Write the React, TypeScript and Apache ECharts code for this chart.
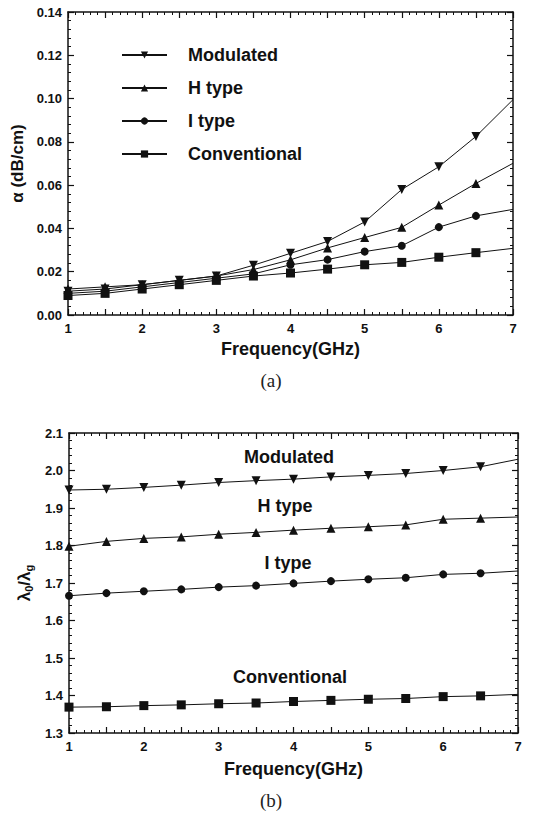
import React, { useEffect, useRef } from "react";
import * as echarts from "echarts";

// Frequency sweep (GHz)
const freqs = [1, 1.5, 2, 2.5, 3, 3.5, 4, 4.5, 5, 5.5, 6, 6.5, 7];

// (a) attenuation constant alpha (dB/cm)
const alphaModulated = [0.011, 0.012, 0.014, 0.016, 0.018, 0.023, 0.0285, 0.034, 0.043, 0.058, 0.0685, 0.0825, 0.0995];
const alphaHType = [0.012, 0.013, 0.014, 0.016, 0.018, 0.021, 0.0255, 0.031, 0.0358, 0.0405, 0.0508, 0.0608, 0.0701];
const alphaIType = [0.010, 0.011, 0.013, 0.015, 0.017, 0.019, 0.0232, 0.0256, 0.0293, 0.032, 0.0406, 0.0458, 0.0488];
const alphaConventional = [0.009, 0.010, 0.012, 0.014, 0.016, 0.018, 0.0194, 0.0212, 0.0232, 0.0243, 0.0267, 0.0288, 0.0308];

// (b) slow-wave factor lambda0 / lambdag
const slowModulated = [1.948, 1.950, 1.955, 1.961, 1.968, 1.973, 1.977, 1.983, 1.987, 1.992, 2.0, 2.01, 2.03];
const slowHType = [1.798, 1.811, 1.819, 1.823, 1.830, 1.835, 1.841, 1.846, 1.850, 1.855, 1.870, 1.873, 1.876];
const slowIType = [1.666, 1.673, 1.678, 1.683, 1.689, 1.693, 1.699, 1.705, 1.710, 1.714, 1.723, 1.726, 1.732];
const slowConventional = [1.369, 1.370, 1.373, 1.375, 1.378, 1.380, 1.384, 1.387, 1.390, 1.392, 1.397, 1.399, 1.403];

const seriesNames = ["Modulated", "H type", "I type", "Conventional"];
const seriesSymbols = ["triangle", "triangle", "circle", "rect"];
const seriesRotate = [180, 0, 0, 0];

const xTicks = { min: 1, max: 7, interval: 0.5 };
const alphaTicks = { min: 0, max: 0.14, interval: 0.02 };
const slowTicks = { min: 1.3, max: 2.1, interval: 0.1 };

const INK = "#111";
const SANS = "'Liberation Sans', Arial, sans-serif";

function pairs(values: number[]) {
  // The final sample at 7 GHz is drawn as a line end, without a marker.
  return values.map((v, i) =>
    i === values.length - 1 ? { value: [freqs[i], v], symbol: "none" } : { value: [freqs[i], v] }
  );
}

function xAxisPair(grid: number, nameGap: number) {
  const common = {
    type: "value",
    gridIndex: grid,
    min: xTicks.min,
    max: xTicks.max,
    interval: xTicks.interval,
    splitLine: { show: false },
    axisLine: { show: true, onZero: false, lineStyle: { color: INK, width: 1.5 } },
    axisTick: { show: true, inside: true, length: 6, lineStyle: { color: INK, width: 1.2 } },
    minorTick: { show: true, splitNumber: 5, length: 3, lineStyle: { color: INK, width: 1 } },
  };
  return [
    {
      ...common,
      position: "bottom",
      name: "Frequency(GHz)",
      nameLocation: "middle",
      nameGap,
      nameTextStyle: { fontFamily: SANS, fontWeight: "bold", fontSize: 18, color: INK },
      axisLabel: {
        margin: 7,
        fontFamily: SANS,
        fontWeight: "bold",
        fontSize: 13,
        color: INK,
        formatter: (v: number) => (Math.abs(v - Math.round(v)) < 1e-6 ? String(Math.round(v)) : ""),
      },
    },
    { ...common, position: "top", axisLabel: { show: false } },
  ];
}

function yAxisPair(grid: number, ticks: { min: number; max: number; interval: number }, digits: number, name: any, nameGap: number) {
  const common = {
    type: "value",
    gridIndex: grid,
    min: ticks.min,
    max: ticks.max,
    interval: ticks.interval,
    splitLine: { show: false },
    axisLine: { show: true, onZero: false, lineStyle: { color: INK, width: 1.5 } },
    axisTick: { show: true, inside: true, length: 6, lineStyle: { color: INK, width: 1.2 } },
    minorTick: { show: true, splitNumber: 5, length: 3, lineStyle: { color: INK, width: 1 } },
  };
  return [
    {
      ...common,
      position: "left",
      ...name,
      nameLocation: "middle",
      nameGap,
      axisLabel: {
        margin: 6,
        fontFamily: SANS,
        fontWeight: "bold",
        fontSize: 13,
        color: INK,
        formatter: (v: number) => v.toFixed(digits),
      },
    },
    { ...common, position: "right", axisLabel: { show: false } },
  ];
}

function lineSeries(name: string, idx: number, values: number[], axis: number) {
  return {
    type: "line",
    name,
    xAxisIndex: axis,
    yAxisIndex: axis,
    data: pairs(values),
    symbol: seriesSymbols[idx],
    symbolRotate: seriesRotate[idx],
    symbolSize: idx === 2 ? 8 : 9,
    showAllSymbol: true,
    lineStyle: { color: INK, width: 1 },
    itemStyle: { color: INK },
    z: 3,
  };
}

export default function App() {
  const ref = useRef<HTMLDivElement>(null);

  useEffect(() => {
    if (!ref.current) return;
    const chart = echarts.init(ref.current, undefined, { renderer: "svg" });

    const alphaSets = [alphaModulated, alphaHType, alphaIType, alphaConventional];
    const slowSets = [slowModulated, slowHType, slowIType, slowConventional];

    const curveLabel = (text: string, x: number, y: number) => ({
      type: "text",
      x,
      y,
      style: {
        text,
        fontFamily: SANS,
        fontWeight: "bold",
        fontSize: 18,
        fill: INK,
        textAlign: "center",
        textVerticalAlign: "middle",
      },
    });
    const caption = (text: string, x: number, y: number) => ({
      type: "text",
      x,
      y,
      style: {
        text,
        fontFamily: "'Liberation Serif', 'Times New Roman', serif",
        fontSize: 19,
        fill: "#222",
        textAlign: "center",
        textVerticalAlign: "middle",
      },
    });

    chart.setOption({
      animation: false,
      backgroundColor: "#fff",
      grid: [
        { left: 68, top: 12, width: 445, height: 303 },
        { left: 69, top: 433, width: 449, height: 300 },
      ],
      xAxis: [...xAxisPair(0, 25), ...xAxisPair(1, 27)].map((a, i) =>
        i < 2 ? { ...a, gridIndex: 0 } : { ...a, gridIndex: 1 }
      ),
      yAxis: [
        ...yAxisPair(
          0,
          alphaTicks,
          2,
          {
            name: "\u03b1 (dB/cm)",
            nameTextStyle: { fontFamily: SANS, fontWeight: "bold", fontSize: 17, color: INK },
          },
          29
        ),
        ...yAxisPair(
          1,
          slowTicks,
          1,
          {
            name: "\u03bb{sub|0}/\u03bb{sub|g}",
            nameTextStyle: {
              fontFamily: SANS,
              fontWeight: "bold",
              fontSize: 17,
              color: INK,
              rich: {
                sub: { fontFamily: SANS, fontWeight: "bold", fontSize: 11, color: INK, verticalAlign: "bottom", padding: [8, 0, 0, 0] },
              },
            },
          },
          26
        ),
      ],
      legend: {
        data: seriesNames,
        orient: "vertical",
        left: 116,
        top: 41,
        itemWidth: 45,
        itemHeight: 9,
        itemGap: 15,
        selectedMode: false,
        textStyle: { fontFamily: SANS, fontWeight: "bold", fontSize: 18, color: INK, padding: [0, 0, 0, 16] },
      },
      series: [
        ...alphaSets.map((vals, i) => lineSeries(seriesNames[i], i, vals, 0)),
        ...slowSets.map((vals, i) => lineSeries(seriesNames[i], i, vals, 2)),
      ],
      graphic: [
        curveLabel("Modulated", 289, 457),
        curveLabel("H type", 285, 506),
        curveLabel("I type", 288, 563),
        curveLabel("Conventional", 290, 677),
        caption("(a)", 271, 380),
        caption("(b)", 271, 800),
      ],
    });

    return () => chart.dispose();
  }, []);

  return (
    <div
      ref={ref}
      style={{ position: "absolute", left: 0, top: 0, width: 542, height: 814, background: "#fff" }}
    />
  );
}
